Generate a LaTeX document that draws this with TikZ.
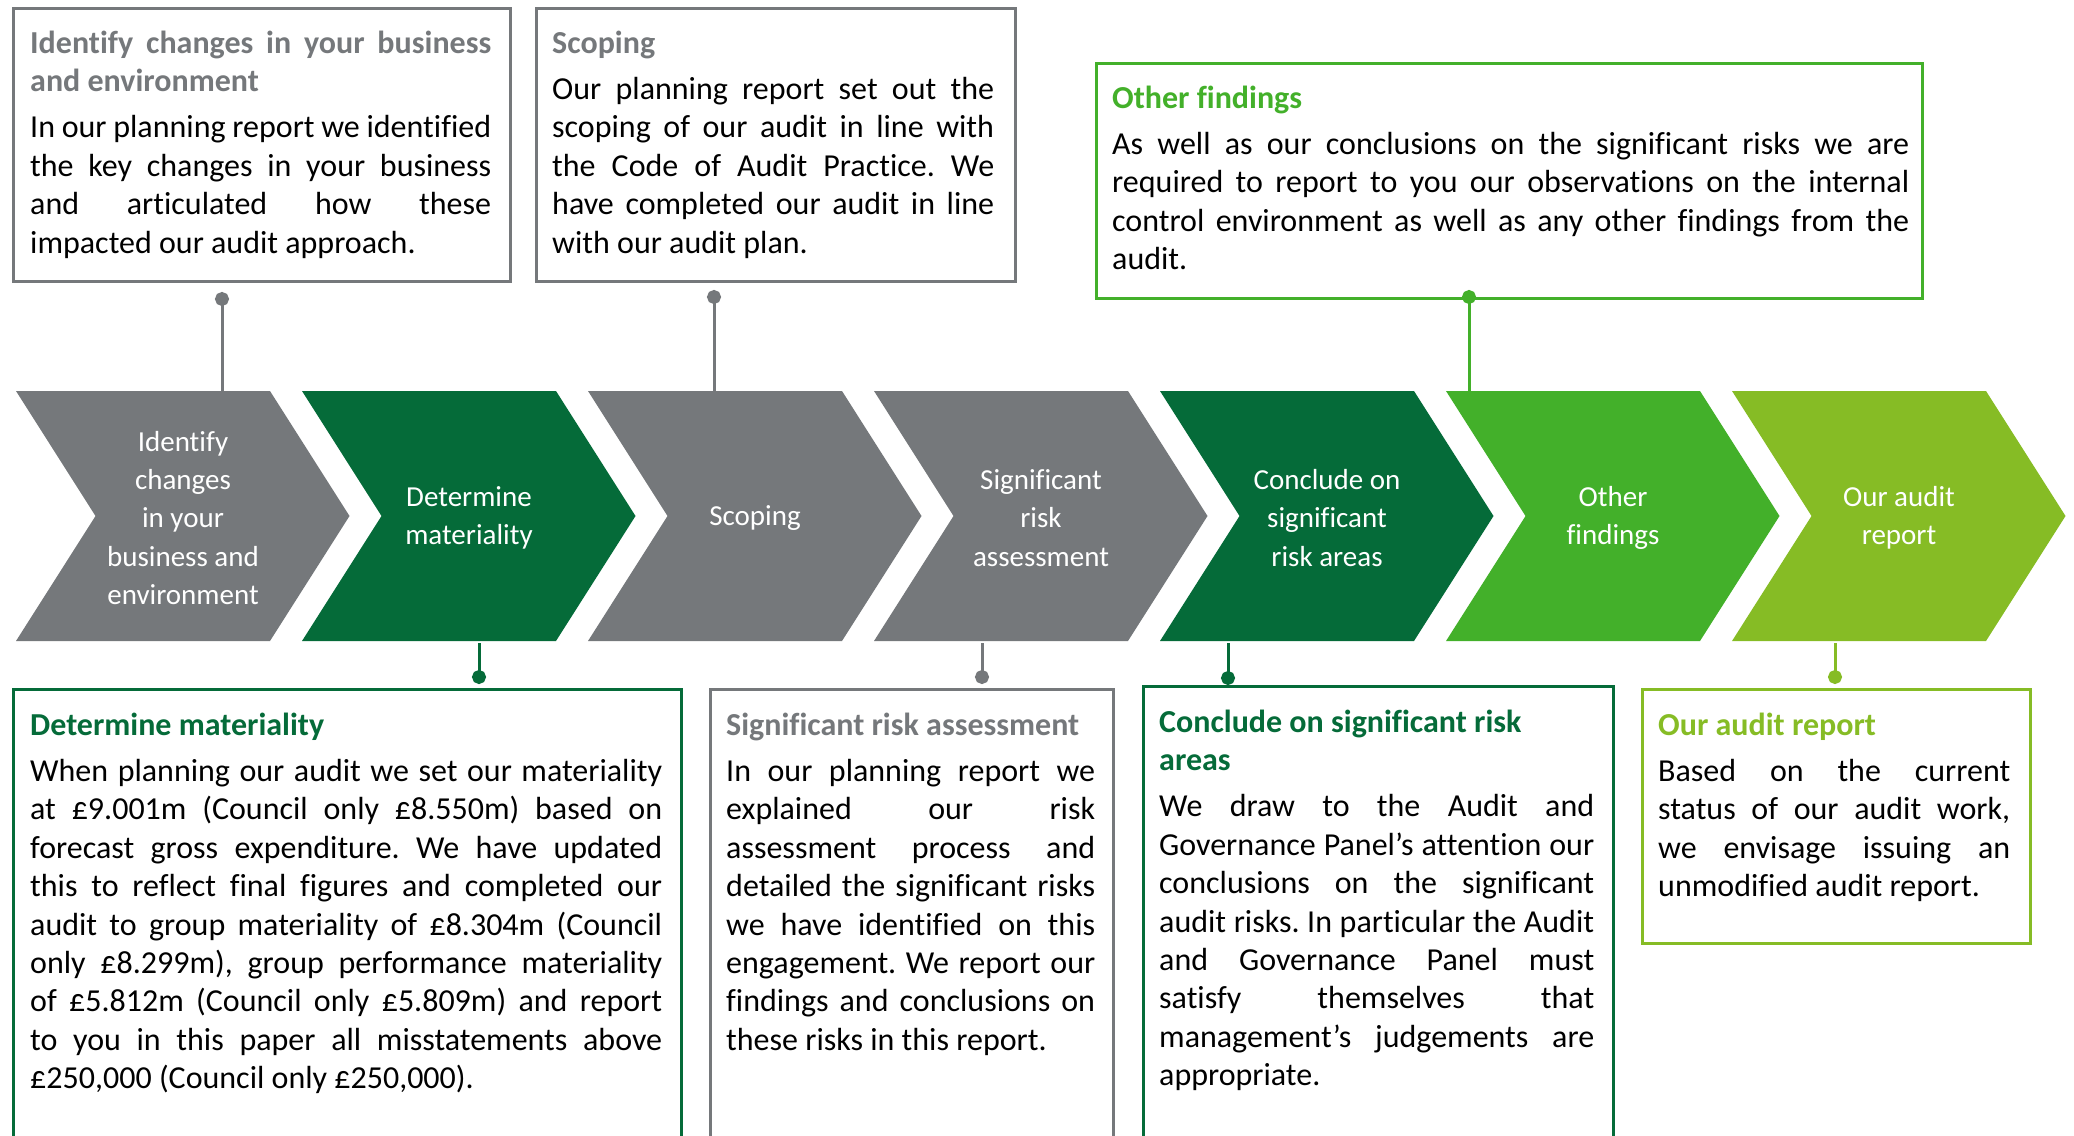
\documentclass[tikz,border=0pt]{standalone}
\usepackage{fontspec}
\setmainfont{Carlito}[Ligatures=CommonOff]
\usepackage{xcolor}
\definecolor{cgray}{RGB}{117,120,123}
\definecolor{cdark}{RGB}{5,107,57}
\definecolor{cgreen}{RGB}{67,176,42}
\definecolor{clime}{RGB}{134,188,37}
\usepackage{tikz}
\usetikzlibrary{calc,arrows.meta}

\frenchspacing
\hyphenpenalty=10000
\exhyphenpenalty=10000
\tolerance=10000
\hbadness=10000
\newcommand{\bodysize}{\fontsize{32}{38.4}\selectfont}
\newcommand{\heading}[2]{\leavevmode{\color{#1}\bfseries #2}\par\vspace{8pt}}

\begin{document}
\begin{tikzpicture}[x=1pt, y=-1pt,
    card/.style={draw=#1, line width=2.5pt, anchor=north west, inner sep=0pt},
    cardtext/.style={anchor=base west, inner sep=0pt, align=justify, font=\bodysize},
    stage/.style={minimum height=250pt, inner sep=0pt, text=white, align=center,
      font=\fontsize{29}{38.4}\selectfont},
    link/.style={draw=#1, line width=3pt, -{Circle[length=14pt,width=14pt]}}]
    \useasboundingbox (0,0) rectangle (2074,1135);

    % Stages
    \foreach \col/\txt [count=\i from 0] in {
        cgray/{Identify\\changes\\in your\\business and\\environment},
        cdark/{Determine\\materiality},
        cgray/{Scoping},
        cgray/{Significant\\risk\\assessment},
        cdark/{Conclude on\\significant\\risk areas},
        cgreen/{Other\\findings},
        clime/{Our audit\\report}}{
        \fill[\col] ({16+286*\i},391) -- ++(254,0) -- ++(79.5,125) -- ++(-79.5,125)
            -- ++(-254,0) -- ++(79.5,-125) -- cycle;
        \node[stage] (s\i) at ({16+286*\i+167},518) {\txt};
    }

    % Boxes above
    \node[card=cgray, minimum width=497pt, minimum height=273pt] (b1) at (12,7) {};
    \node[card=cgray, minimum width=479pt, minimum height=273pt] (b2) at (535,7) {};
    \node[card=cgreen, minimum width=826pt, minimum height=235pt] (b3) at (1095,62) {};

    % Boxes below
    \node[card=cdark, minimum width=668pt, minimum height=470pt] (b4) at (12,688) {};
    \node[card=cgray, minimum width=403pt, minimum height=470pt] (b5) at (709,688) {};
    \node[card=cdark, minimum width=470pt, minimum height=470pt] (b6) at (1142,685) {};
    \node[card=clime, minimum width=388pt, minimum height=254pt] (b7) at (1641,688) {};

    % Texts
    \node[cardtext, text width=461pt] (t1) at (30,53) {\heading{cgray}{Identify changes in your business\linebreak and environment}%
        In our planning report we identified\linebreak the key changes in your business\linebreak and articulated how these\linebreak impacted our audit approach.};
    \node[cardtext, text width=442pt] (t2) at (552,53) {\heading{cgray}{Scoping}%
        Our planning report set out the\linebreak scoping of our audit in line with\linebreak the Code of Audit Practice. We\linebreak have completed our audit in line\linebreak with our audit plan.};
    \node[cardtext, text width=797pt] (t3) at (1112,108) {\heading{cgreen}{Other findings}%
        As well as our conclusions on the significant risks we are\linebreak required to report to you our observations on the internal\linebreak control environment as well as any other findings from the\linebreak audit.};
    \node[cardtext, text width=632pt] (t4) at (30,735) {\heading{cdark}{Determine materiality}%
        When planning our audit we set our materiality\linebreak at £9.001m (Council only £8.550m) based on\linebreak forecast gross expenditure. We have updated\linebreak this to reflect final figures and completed our\linebreak audit to group materiality of £8.304m (Council\linebreak only £8.299m), group performance materiality\linebreak of £5.812m (Council only £5.809m) and report\linebreak to you in this paper all misstatements above\linebreak £250,000 (Council only £250,000).};
    \node[cardtext, text width=369pt] (t5) at (726,735) {\heading{cgray}{Significant risk assessment}%
        In our planning report we\linebreak explained our risk\linebreak assessment process and\linebreak detailed the significant risks\linebreak we have identified on this\linebreak engagement. We report our\linebreak findings and conclusions on\linebreak these risks in this report.};
    \node[cardtext, text width=435pt] (t6) at (1159,732) {\heading{cdark}{Conclude on significant risk\\areas}%
        We draw to the Audit and\linebreak Governance Panel’s attention our\linebreak conclusions on the significant\linebreak audit risks. In particular the Audit\linebreak and Governance Panel must\linebreak satisfy themselves that\linebreak management’s judgements are\linebreak appropriate.};
    \node[cardtext, text width=352pt] (t7) at (1658,735) {\heading{clime}{Our audit report}%
        Based on the current\linebreak status of our audit work,\linebreak we envisage issuing an\linebreak unmodified audit report.};

    % Connectors
    \coordinate (d1) at (222,292);
    \coordinate (d2) at (714,290);
    \coordinate (d3) at (1469,290);
    \coordinate (d4) at (479,684);
    \coordinate (d5) at (982,684);
    \coordinate (d6) at (1228,685);
    \coordinate (d7) at (1835,684);
    \draw[link=cgray] (s0.north -| d1) -- (d1);
    \draw[link=cgray] (s2.north -| d2) -- (d2);
    \draw[link=cgreen] (s5.north -| d3) -- (d3);
    \draw[link=cdark] (s1.south -| d4) -- (d4);
    \draw[link=cgray] (s3.south -| d5) -- (d5);
    \draw[link=cdark] (s4.south -| d6) -- (d6);
    \draw[link=clime] (s6.south -| d7) -- (d7);
\end{tikzpicture}
\end{document}
